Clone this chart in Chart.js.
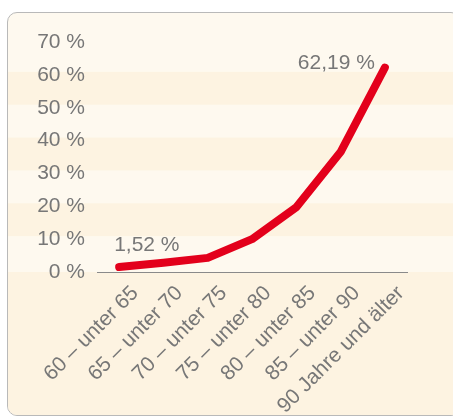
<!DOCTYPE html>
<html lang="de">
<head>
    <meta charset="UTF-8">
    <script src="https://cdn.jsdelivr.net/npm/chart.js"></script>
    <title>Anteil nach Altersgruppe</title>
    <style>
        body {
            margin: 0;
            background: #ffffff;
            font-family: "Liberation Sans", Arial, sans-serif;
        }

        .card {
            position: absolute;
            left: 7px;
            top: 12px;
            width: 452px;
            height: 402px;
            border: 1px solid #b9b9b9;
            border-radius: 10px;
            overflow: hidden;
            background: #fef9ef;
        }

        .card canvas {
            position: absolute;
            left: 0;
            top: 0;
        }
    </style>
</head>
<body>
<div class="card">
    <canvas id="myChart" width="452" height="402"></canvas>
</div>
<script>
    // data
    const categories = ['60 – unter 65', '65 – unter 70', '70 – unter 75', '75 – unter 80',
        '80 – unter 85', '85 – unter 90', '90 Jahre und älter'];
    const shares = [1.52, 2.8, 4.3, 10.0, 19.7, 36.5, 62.19];
    const yTicks = [0, 10, 20, 30, 40, 50, 60, 70];
    const labelled = [0, 6];   // which points carry a value label

    const textGray = '#777777';
    const font = {family: '"Liberation Sans", Arial, sans-serif', size: 21};

    function fmt(v) {
        return v.toFixed(2).replace('.', ',') + ' %';
    }

    // alternating background stripes between the grid values
    const stripes = {
        id: 'stripes',
        beforeDraw(chart) {
            const {ctx, scales: {y}, width, height} = chart;
            ctx.save();
            ctx.fillStyle = '#fdf3e1';
            for (let i = 1; i < yTicks.length - 1; i += 2) {
                const top = y.getPixelForValue(yTicks[i + 1]) - 3;
                const bottom = y.getPixelForValue(yTicks[i]) - 3;
                ctx.fillRect(0, top, width, bottom - top);
            }
            const zero = y.getPixelForValue(0);
            ctx.fillRect(0, zero, width, height - zero);
            ctx.restore();
        }
    };

    // value labels at first and last point
    const valueLabels = {
        id: 'valueLabels',
        afterDatasetsDraw(chart) {
            const {ctx} = chart;
            const pts = chart.getDatasetMeta(0).data;
            ctx.save();
            ctx.font = font.size + 'px ' + font.family;
            ctx.fillStyle = textGray;
            ctx.textBaseline = 'middle';
            labelled.forEach(i => {
                const p = pts[i];
                if (i === 0) {
                    ctx.textAlign = 'left';
                    ctx.fillText(fmt(shares[i]), p.x - 5, p.y - 22);
                } else {
                    ctx.textAlign = 'right';
                    ctx.fillText(fmt(shares[i]), p.x - 10, p.y - 4);
                }
            });
            ctx.restore();
        }
    };

    new Chart(document.getElementById('myChart'), {
        type: 'line',
        data: {
            labels: categories,
            datasets: [{
                data: shares,
                borderColor: '#e3001b',
                borderWidth: 8,
                borderCapStyle: 'round',
                borderJoinStyle: 'round',
                pointRadius: 0,
                tension: 0,
                fill: false
            }]
        },
        options: {
            responsive: false,
            animation: false,
            events: [],
            layout: {
                padding: {top: 29, right: 53, left: 0, bottom: 0}
            },
            plugins: {
                legend: {display: false},
                tooltip: {enabled: false}
            },
            scales: {
                x: {
                    offset: true,
                    grid: {display: false},
                    border: {display: true, color: '#8a8a8a', width: 1},
                    ticks: {
                        color: textGray,
                        font: font,
                        minRotation: 45,
                        maxRotation: 45,
                        autoSkip: false,
                        padding: 1,
                        labelOffset: 16
                    },
                    afterFit(scale) {
                        scale.height = 143;
                    }
                },
                y: {
                    min: 0,
                    max: 70,
                    grid: {display: false, drawTicks: false},
                    border: {display: false},
                    afterBuildTicks(scale) {
                        scale.ticks = yTicks.map(v => ({value: v}));
                    },
                    ticks: {
                        color: textGray,
                        font: font,
                        padding: 12,
                        callback: v => v + ' %'
                    },
                    afterFit(scale) {
                        scale.width = 89;
                    }
                }
            }
        },
        plugins: [stripes, valueLabels]
    });
</script>
</body>
</html>
